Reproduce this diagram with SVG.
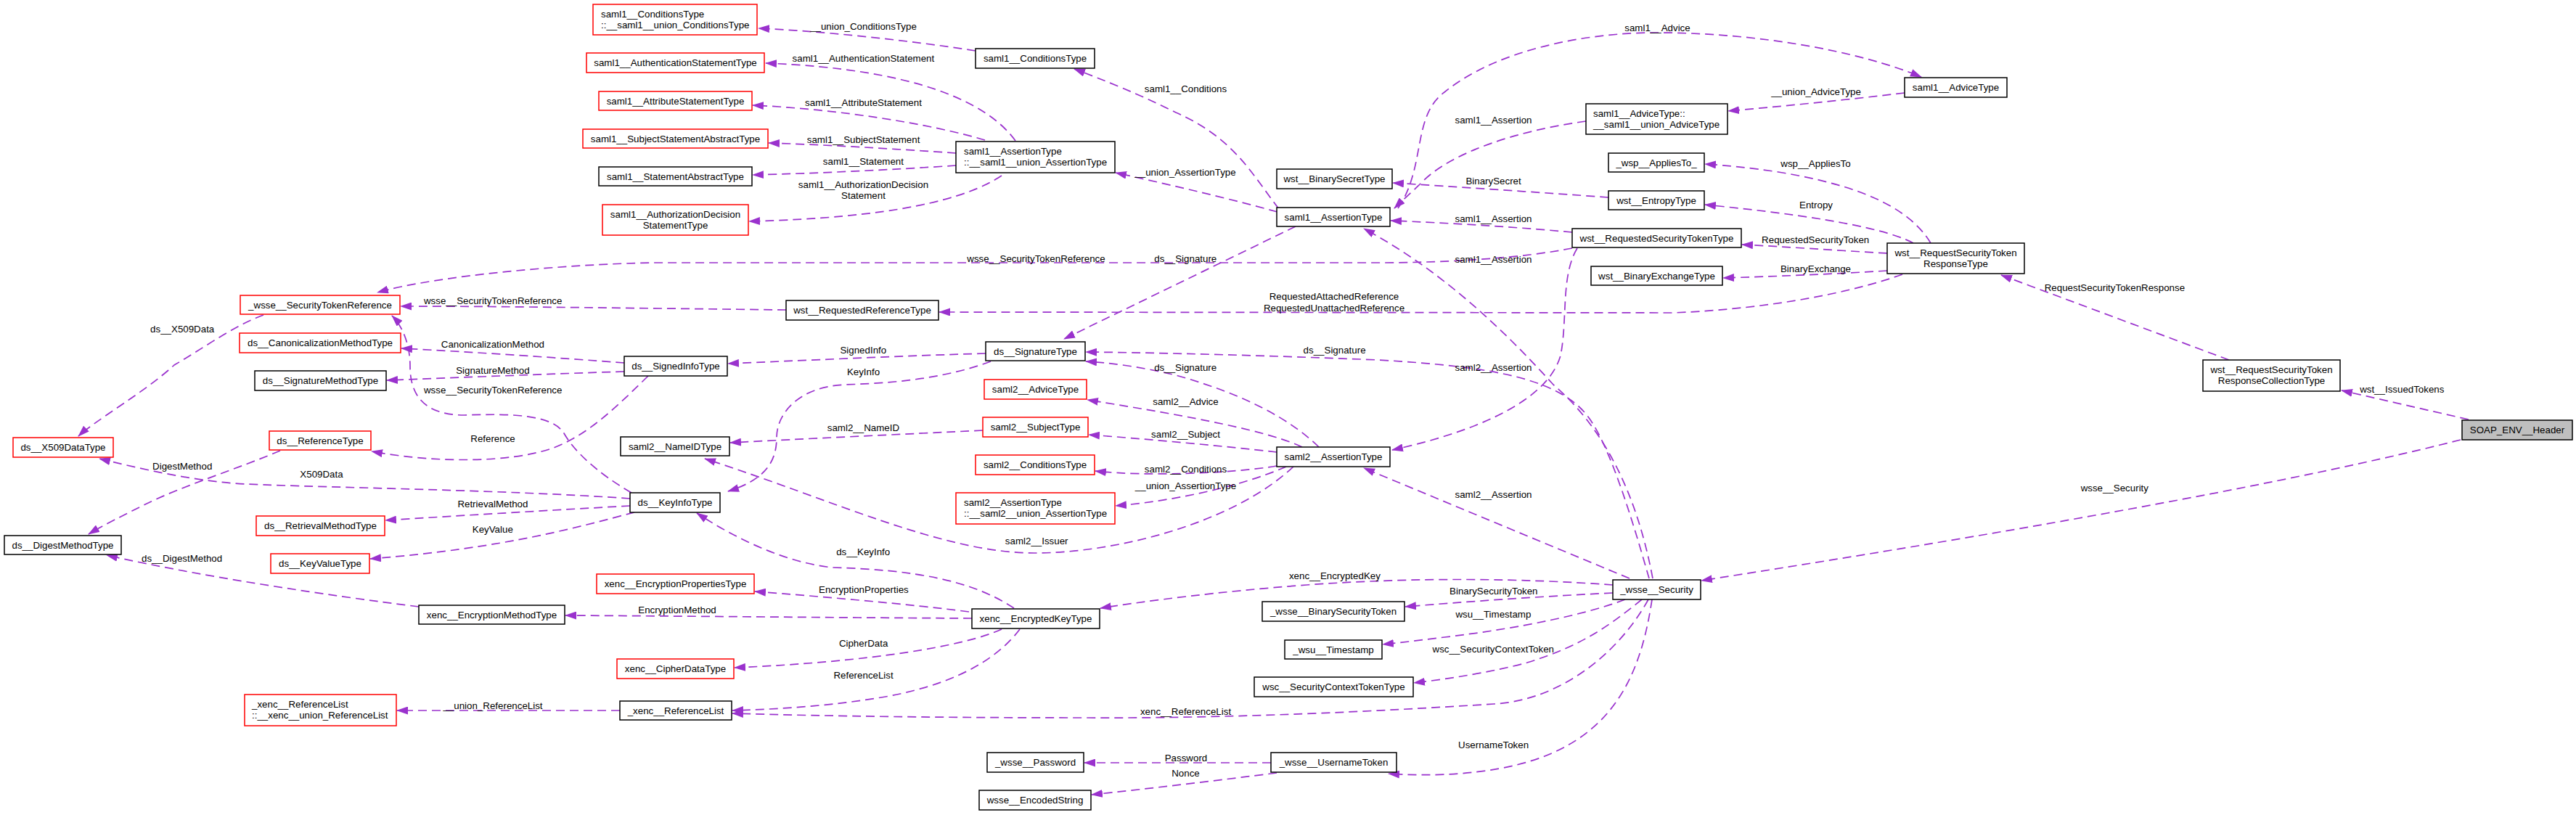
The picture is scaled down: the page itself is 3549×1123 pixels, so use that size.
<svg xmlns="http://www.w3.org/2000/svg" width="3549" height="1123" viewBox="0 0 3549 1123">
<style>
.t{font-family:"Liberation Sans",Arial,Helvetica,sans-serif;font-size:13.33px;fill:#000}
.c{text-anchor:middle}
.b{fill:#fff;stroke:#000;stroke-width:1.5}
.r{fill:#fff;stroke:#ff0000;stroke-width:1.5}
.g{fill:#bfbfbf;stroke:#000;stroke-width:1.5}
.e{fill:none;stroke:#9a32cd;stroke-width:1.7;stroke-dasharray:12,7;marker-end:url(#ah)}
</style>
<defs>
<marker id="ah" viewBox="0 0 16 11" refX="15" refY="5.5" markerWidth="16" markerHeight="11" markerUnits="userSpaceOnUse" orient="auto"><path d="M0,0 L16,5.5 L0,11 z" fill="#9a32cd"/></marker>
</defs>
<rect width="3549" height="1123" fill="#fff"/>

<g id="connectors">
<g><path class="e" d="M1344,70 C1250,55 1120,42 1045,39"/><text class="t c" x="1189.5" y="41">__union_ConditionsType</text></g>
<g><path class="e" d="M1399,194 C1360,140 1260,95 1055,87"/><text class="t c" x="1189.4" y="85">saml1__AuthenticationStatement</text></g>
<g><path class="e" d="M1357,193 C1280,170 1150,150 1037,145"/><text class="t c" x="1189.5" y="146">saml1__AttributeStatement</text></g>
<g><path class="e" d="M1317,211 C1230,205 1130,199 1059,197"/><text class="t c" x="1189.6" y="197">saml1__SubjectStatement</text></g>
<g><path class="e" d="M1317,228 C1230,234 1120,239 1037,241"/><text class="t c" x="1189.4" y="227">saml1__Statement</text></g>
<g><path class="e" d="M1380,242 C1330,275 1230,300 1032,305"/><text class="t c" x="1189.5" y="258.5">saml1__AuthorizationDecision</text><text class="t c" x="1189.5" y="273.8">Statement</text></g>
<g><path class="e" d="M1762,288 C1725,240 1700,190 1620,155 C1570,130 1520,110 1480,95"/><text class="t c" x="1633.5" y="127">saml1__Conditions</text></g>
<g><path class="e" d="M1760,292 C1680,270 1600,252 1537,238"/><text class="t c" x="1633" y="242">__union_AssertionType</text></g>
<g><path class="e" d="M1926,287 C1965,230 1945,160 1990,127 C2060,70 2180,45 2282,45 C2420,45 2560,70 2647,106"/><text class="t c" x="2283.5" y="43">saml1__Advice</text></g>
<g><path class="e" d="M2624,128 C2540,138 2450,147 2381,153"/><text class="t c" x="2502" y="130.5">__union_AdviceType</text></g>
<g><path class="e" d="M2185,167 C2090,180 2000,210 1960,250 C1945,265 1930,278 1921,287"/><text class="t c" x="2057.5" y="170">saml1__Assertion</text></g>
<g><path class="e" d="M2660,335 C2630,285 2560,255 2450,237 C2410,231 2380,228 2349,226"/><text class="t c" x="2501.5" y="229.5">wsp__AppliesTo</text></g>
<g><path class="e" d="M2216,272 C2120,265 2000,257 1919,252"/><text class="t c" x="2057.6" y="253.8">BinarySecret</text></g>
<g><path class="e" d="M2636,335 C2590,310 2460,293 2349,282"/><text class="t c" x="2502" y="287">Entropy</text></g>
<g><path class="e" d="M2166,320 C2080,312 1990,307 1916,304"/><text class="t c" x="2057.5" y="306">saml1__Assertion</text></g>
<g><path class="e" d="M2600,349 C2530,345 2460,340 2400,337"/><text class="t c" x="2501.2" y="335">RequestedSecurityToken</text></g>
<g><path class="e" d="M2166,342 C2100,355 2000,362 1900,362 L900,362 C780,364 600,380 520,403"/><text class="t c" x="1427.5" y="361">wsse__SecurityTokenReference</text></g>
<g><path class="e" d="M2600,373 C2520,378 2440,381 2374,383"/><text class="t c" x="2501.5" y="374.5">BinaryExchange</text></g>
<g><path class="e" d="M2621,378 C2560,400 2450,425 2305,431 L1294,430"/><text class="t c" x="1838" y="413">RequestedAttachedReference</text><text class="t c" x="1838" y="428.5">RequestedUnattachedReference</text></g>
<g><path class="e" d="M3071,496 L2757,379"/><text class="t c" x="2913.4" y="401">RequestSecurityTokenResponse</text></g>
<g><path class="e" d="M3401,578 L3226,538"/><text class="t c" x="3309.3" y="541">wst__IssuedTokens</text></g>
<g><path class="e" d="M3390,606 C3100,680 2600,760 2344,800"/><text class="t c" x="2913.3" y="677">wsse__Security</text></g>
<g><path class="e" d="M1785,312 L1466,467"/><text class="t c" x="1633.3" y="361">ds__Signature</text></g>
<g><path class="e" d="M1358,487 C1250,490 1100,497 1003,501"/><text class="t c" x="1189.3" y="487">SignedInfo</text></g>
<g><path class="e" d="M1365,498 C1300,522 1230,528 1164,530 C1100,533 1070,570 1070,603 C1070,640 1050,662 1003,677"/><text class="t c" x="1189.5" y="517">KeyInfo</text></g>
<g><path class="e" d="M2272,797 C2250,720 2220,620 2190,577 C2150,520 2050,505 1900,496 C1750,490 1600,486 1496,485"/><text class="t c" x="1838.6" y="487">ds__Signature</text></g>
<g><path class="e" d="M2277,797 C2255,680 2210,590 2140,530 C2090,475 2000,380 1879,315"/><text class="t c" x="2057.5" y="362">saml1__Assertion</text></g>
<g><path class="e" d="M2173,342 C2150,380 2160,440 2150,490 C2130,560 2010,600 1918,620"/><text class="t c" x="2057.5" y="511">saml2__Assertion</text></g>
<g><path class="e" d="M2245,797 L1879,645"/><text class="t c" x="2057.5" y="686">saml2__Assertion</text></g>
<g><path class="e" d="M1817,616 C1780,580 1720,545 1620,517 C1570,505 1530,500 1496,498"/><text class="t c" x="1633.2" y="510.5">ds__Signature</text></g>
<g><path class="e" d="M1794,616 C1750,595 1650,575 1498,551"/><text class="t c" x="1633.5" y="557.8">saml2__Advice</text></g>
<g><path class="e" d="M1759,623 C1680,614 1580,605 1500,599"/><text class="t c" x="1633.5" y="603">saml2__Subject</text></g>
<g><path class="e" d="M1759,642 C1700,652 1580,657 1509,649"/><text class="t c" x="1633.5" y="650.5">saml2__Conditions</text></g>
<g><path class="e" d="M1772,643 C1710,670 1620,690 1537,697"/><text class="t c" x="1633.5" y="673.8">__union_AssertionType</text></g>
<g><path class="e" d="M1782,643 C1700,720 1540,762 1425,762 C1300,762 1150,690 971,632"/><text class="t c" x="1428.2" y="749.5">saml2__Issuer</text></g>
<g><path class="e" d="M1354,593 C1250,598 1100,605 1006,610"/><text class="t c" x="1189.4" y="593.5">saml2__NameID</text></g>
<g><path class="e" d="M893,518 C850,560 810,600 760,618 C700,638 600,638 512,622"/><text class="t c" x="679" y="608.8">Reference</text></g>
<g><path class="e" d="M860,500 C770,493 650,485 553,480"/><text class="t c" x="678.9" y="478.8">CanonicalizationMethod</text></g>
<g><path class="e" d="M860,512 C760,515 640,520 533,524"/><text class="t c" x="678.9" y="515.2">SignatureMethod</text></g>
<g><path class="e" d="M870,679 C820,650 790,620 777,597 C760,570 700,570 640,572 C580,572 565,540 565,505 C565,475 555,450 540,435"/><text class="t c" x="679.2" y="542.2">wsse__SecurityTokenReference</text></g>
<g><path class="e" d="M363,434 C320,450 280,480 240,503 C200,540 130,580 108,601"/><text class="t c" x="251.2" y="457.8">ds__X509Data</text></g>
<g><path class="e" d="M868,687 C700,675 450,672 340,667 C270,664 190,645 137,632"/><text class="t c" x="443" y="658.2">X509Data</text></g>
<g><path class="e" d="M386,621 C330,645 250,670 200,695 C170,710 140,725 122,736"/><text class="t c" x="251.2" y="646.8">DigestMethod</text></g>
<g><path class="e" d="M868,697 C760,703 640,710 531,717"/><text class="t c" x="678.9" y="698.8">RetrievalMethod</text></g>
<g><path class="e" d="M874,706 C800,725 700,755 510,770"/><text class="t c" x="678.8" y="733.5">KeyValue</text></g>
<g><path class="e" d="M1083,427 C900,425 700,422 552,422"/><text class="t c" x="679.2" y="418.8">wsse__SecurityTokenReference</text></g>
<g><path class="e" d="M1397,838 C1340,800 1260,785 1147,782 C1080,775 1010,740 960,707"/><text class="t c" x="1189.2" y="765.2">ds__KeyInfo</text></g>
<g><path class="e" d="M1335,843 C1250,832 1130,822 1040,815"/><text class="t c" x="1189.9" y="817.2">EncryptionProperties</text></g>
<g><path class="e" d="M1339,852 C1150,851 950,849 779,848"/><text class="t c" x="933" y="844.8">EncryptionMethod</text></g>
<g><path class="e" d="M1380,867 C1330,890 1200,912 1012,920"/><text class="t c" x="1189.6" y="891.2">CipherData</text></g>
<g><path class="e" d="M1405,867 C1380,900 1330,940 1220,960 C1150,972 1080,977 1009,979"/><text class="t c" x="1189.6" y="935.2">ReferenceList</text></g>
<g><path class="e" d="M2271,826 C2230,900 2150,965 2058,970 C1900,980 1700,990 1500,989 C1300,989 1150,987 1009,983"/><text class="t c" x="1633.5" y="985.2">xenc__ReferenceList</text></g>
<g><path class="e" d="M854,979 L547,979"/><text class="t c" x="679" y="976.8">__union_ReferenceList</text></g>
<g><path class="e" d="M577,836 C450,820 280,795 147,765"/><text class="t c" x="250.6" y="773.5">ds__DigestMethod</text></g>
<g><path class="e" d="M2222,806 C2100,797 1950,795 1800,806 C1680,815 1580,828 1516,838"/><text class="t c" x="1838.9" y="797.8">xenc__EncryptedKey</text></g>
<g><path class="e" d="M2222,817 C2120,822 2020,829 1936,836"/><text class="t c" x="2057.8" y="819.2">BinarySecurityToken</text></g>
<g><path class="e" d="M2239,826 C2190,845 2100,865 1990,878 C1950,883 1925,886 1905,888"/><text class="t c" x="2057.4" y="851.2">wsu__Timestamp</text></g>
<g><path class="e" d="M2262,826 C2220,860 2180,890 2104,913 C2060,925 2000,935 1948,941"/><text class="t c" x="2057.3" y="898.8">wsc__SecurityContextToken</text></g>
<g><path class="e" d="M2276,826 C2262,920 2230,1000 2133,1040 C2080,1062 2000,1072 1913,1066"/><text class="t c" x="2057.6" y="1031.2">UsernameToken</text></g>
<g><path class="e" d="M1751,1051 L1494,1051"/><text class="t c" x="1634" y="1048.8">Password</text></g>
<g><path class="e" d="M1759,1065 C1680,1075 1580,1087 1504,1095"/><text class="t c" x="1633.5" y="1070.2">Nonce</text></g>
</g>

<g id="n_saml1_union_conditions"><rect class="r" x="817" y="6" width="226" height="42"/><text class="t" x="828" y="24">saml1__ConditionsType</text><text class="t" x="828" y="39">::__saml1__union_ConditionsType</text></g>
<g id="n_saml1_authn"><rect class="r" x="808" y="73" width="245" height="27"/><text class="t c" x="930.5" y="91">saml1__AuthenticationStatementType</text></g>
<g id="n_saml1_attr"><rect class="r" x="825" y="126" width="211" height="26"/><text class="t c" x="930.5" y="143.6">saml1__AttributeStatementType</text></g>
<g id="n_saml1_subjstmt"><rect class="r" x="803" y="178" width="255" height="26"/><text class="t c" x="930.5" y="195.6">saml1__SubjectStatementAbstractType</text></g>
<g id="n_saml1_stmt"><rect class="b" x="825" y="230" width="211" height="26"/><text class="t c" x="930.5" y="247.6">saml1__StatementAbstractType</text></g>
<g id="n_saml1_authz"><rect class="r" x="830" y="282" width="201" height="42"/><text class="t c" x="930.5" y="300">saml1__AuthorizationDecision</text><text class="t c" x="930.5" y="315">StatementType</text></g>
<g id="n_saml1_conditions"><rect class="b" x="1344" y="67" width="164" height="27"/><text class="t c" x="1426" y="85">saml1__ConditionsType</text></g>
<g id="n_saml1_union_assertion"><rect class="b" x="1317" y="195" width="219" height="43"/><text class="t" x="1328" y="213">saml1__AssertionType</text><text class="t" x="1328" y="228">::__saml1__union_AssertionType</text></g>
<g id="n_saml1_advice"><rect class="b" x="2624" y="107" width="141" height="27"/><text class="t c" x="2694.5" y="125">saml1__AdviceType</text></g>
<g id="n_saml1_union_advice"><rect class="b" x="2185" y="143" width="195" height="42"/><text class="t" x="2195" y="161">saml1__AdviceType::</text><text class="t" x="2195" y="176">__saml1__union_AdviceType</text></g>
<g id="n_wsp_appliesto"><rect class="b" x="2216" y="211" width="132" height="26"/><text class="t c" x="2282" y="228.6">_wsp__AppliesTo_</text></g>
<g id="n_wst_binarysecret"><rect class="b" x="1759" y="233" width="159" height="27"/><text class="t c" x="1838.5" y="251">wst__BinarySecretType</text></g>
<g id="n_wst_entropy"><rect class="b" x="2216" y="263" width="132" height="26"/><text class="t c" x="2282" y="280.6">wst__EntropyType</text></g>
<g id="n_saml1_assertion"><rect class="b" x="1759" y="286" width="156" height="26"/><text class="t c" x="1837" y="303.6">saml1__AssertionType</text></g>
<g id="n_wst_rst"><rect class="b" x="2166" y="315" width="233" height="26"/><text class="t c" x="2282.5" y="332.6">wst__RequestedSecurityTokenType</text></g>
<g id="n_wst_rstr"><rect class="b" x="2600" y="335" width="189" height="42"/><text class="t c" x="2694.5" y="353">wst__RequestSecurityToken</text><text class="t c" x="2694.5" y="368">ResponseType</text></g>
<g id="n_wst_binaryexchange"><rect class="b" x="2192" y="367" width="181" height="26"/><text class="t c" x="2282.5" y="384.6">wst__BinaryExchangeType</text></g>
<g id="n_wst_rstrc"><rect class="b" x="3035" y="496" width="189" height="43"/><text class="t c" x="3129.5" y="514">wst__RequestSecurityToken</text><text class="t c" x="3129.5" y="529">ResponseCollectionType</text></g>
<g id="n_soap_header"><rect class="g" x="3392" y="579" width="152" height="27"/><text class="t c" x="3468" y="597">SOAP_ENV__Header</text></g>
<g id="n_wsse_security"><rect class="b" x="2222" y="799" width="121" height="27"/><text class="t c" x="2282.5" y="817">_wsse__Security</text></g>
<g id="n_wsse_bst"><rect class="b" x="1739" y="829" width="196" height="27"/><text class="t c" x="1837" y="847">_wsse__BinarySecurityToken</text></g>
<g id="n_wsu_timestamp"><rect class="b" x="1770" y="882" width="134" height="26"/><text class="t c" x="1837" y="899.6">_wsu__Timestamp</text></g>
<g id="n_wsc_sct"><rect class="b" x="1728" y="933" width="219" height="27"/><text class="t c" x="1837.5" y="951">wsc__SecurityContextTokenType</text></g>
<g id="n_wsse_usernametoken"><rect class="b" x="1751" y="1037" width="173" height="27"/><text class="t c" x="1837.5" y="1055">_wsse__UsernameToken</text></g>
<g id="n_xenc_encprops"><rect class="r" x="822" y="791" width="217" height="27"/><text class="t c" x="930.5" y="809">xenc__EncryptionPropertiesType</text></g>
<g id="n_xenc_encryptedkey"><rect class="b" x="1339" y="839" width="176" height="27"/><text class="t c" x="1427" y="857">xenc__EncryptedKeyType</text></g>
<g id="n_xenc_cipherdata"><rect class="r" x="850" y="908" width="161" height="27"/><text class="t c" x="930.5" y="926">xenc__CipherDataType</text></g>
<g id="n_xenc_referencelist"><rect class="b" x="854" y="966" width="154" height="26"/><text class="t c" x="931" y="983.6">_xenc__ReferenceList</text></g>
<g id="n_wsse_password"><rect class="b" x="1360" y="1037" width="133" height="27"/><text class="t c" x="1426.5" y="1055">_wsse__Password</text></g>
<g id="n_wsse_encodedstring"><rect class="b" x="1349" y="1089" width="154" height="27"/><text class="t c" x="1426" y="1107">wsse__EncodedString</text></g>
<g id="n_ds_digestmethod"><rect class="b" x="6" y="738" width="161" height="26"/><text class="t c" x="86.5" y="755.6">ds__DigestMethodType</text></g>
<g id="n_ds_keyvalue"><rect class="r" x="373" y="763" width="136" height="27"/><text class="t c" x="441" y="781">ds__KeyValueType</text></g>
<g id="n_xenc_encmethod"><rect class="b" x="577" y="834" width="201" height="26"/><text class="t c" x="677.5" y="851.6">xenc__EncryptionMethodType</text></g>
<g id="n_xenc_union_reflist"><rect class="r" x="337" y="957" width="209" height="43"/><text class="t" x="347" y="975">_xenc__ReferenceList</text><text class="t" x="347" y="990">::__xenc__union_ReferenceList</text></g>
<g id="n_wsse_str"><rect class="r" x="331" y="407" width="220" height="26"/><text class="t c" x="441" y="424.6">_wsse__SecurityTokenReference</text></g>
<g id="n_ds_c14n"><rect class="r" x="330" y="459" width="222" height="27"/><text class="t c" x="441" y="477">ds__CanonicalizationMethodType</text></g>
<g id="n_ds_sigmethod"><rect class="b" x="351" y="511" width="181" height="27"/><text class="t c" x="441.5" y="529">ds__SignatureMethodType</text></g>
<g id="n_ds_x509"><rect class="r" x="18" y="603" width="138" height="27"/><text class="t c" x="87" y="621">ds__X509DataType</text></g>
<g id="n_ds_reference"><rect class="r" x="371" y="594" width="140" height="26"/><text class="t c" x="441" y="611.6">ds__ReferenceType</text></g>
<g id="n_ds_retrieval"><rect class="r" x="353" y="711" width="177" height="27"/><text class="t c" x="441.5" y="729">ds__RetrievalMethodType</text></g>
<g id="n_wst_reqref"><rect class="b" x="1083" y="414" width="210" height="27"/><text class="t c" x="1188" y="432">wst__RequestedReferenceType</text></g>
<g id="n_ds_signature"><rect class="b" x="1358" y="471" width="137" height="26"/><text class="t c" x="1426.5" y="488.6">ds__SignatureType</text></g>
<g id="n_ds_signedinfo"><rect class="b" x="860" y="491" width="142" height="27"/><text class="t c" x="931" y="509">ds__SignedInfoType</text></g>
<g id="n_saml2_advice"><rect class="r" x="1356" y="523" width="141" height="27"/><text class="t c" x="1426.5" y="541">saml2__AdviceType</text></g>
<g id="n_saml2_subject"><rect class="r" x="1354" y="575" width="145" height="27"/><text class="t c" x="1426.5" y="593">saml2__SubjectType</text></g>
<g id="n_saml2_nameid"><rect class="b" x="855" y="602" width="150" height="26"/><text class="t c" x="930" y="619.6">saml2__NameIDType</text></g>
<g id="n_saml2_conditions"><rect class="r" x="1344" y="627" width="164" height="27"/><text class="t c" x="1426" y="645">saml2__ConditionsType</text></g>
<g id="n_saml2_union_assertion"><rect class="r" x="1317" y="679" width="219" height="43"/><text class="t" x="1328" y="697">saml2__AssertionType</text><text class="t" x="1328" y="712">::__saml2__union_AssertionType</text></g>
<g id="n_ds_keyinfo"><rect class="b" x="868" y="679" width="124" height="27"/><text class="t c" x="930" y="697">ds__KeyInfoType</text></g>
<g id="n_saml2_assertion"><rect class="b" x="1759" y="616" width="156" height="27"/><text class="t c" x="1837" y="634">saml2__AssertionType</text></g>
</svg>
